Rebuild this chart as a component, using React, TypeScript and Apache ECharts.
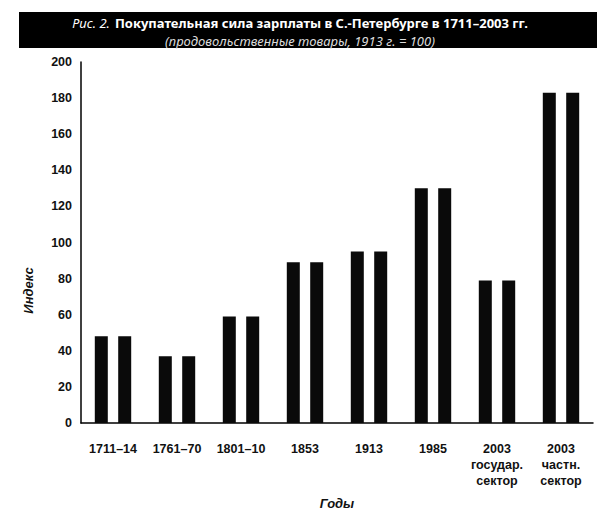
import React, { useEffect, useRef } from "react";
import * as echarts from "echarts";

const categories = [
  "1711–14",
  "1761–70",
  "1801–10",
  "1853",
  "1913",
  "1985",
  "2003\nгосудар.\nсектор",
  "2003\nчастн.\nсектор",
];
const valuesLeft = [48, 37, 59, 89, 95, 130, 79, 183];
const valuesRight = [48, 37, 59, 89, 95, 130, 79, 183];
const yMin = 0;
const yMax = 200;
const yStep = 20;

const titleMain = "Покупательная сила зарплаты в С.-Петербурге в 1711–2003 гг.";
const titlePrefix = "Рис. 2.";
const subtitle = "(продовольственные товары, 1913 г. = 100)";
const yName = "Индекс";
const xName = "Годы";

const LABEL_FONT = "'Liberation Sans', Arial, sans-serif";
const TITLE_FONT = "'Noto Sans', 'Open Sans', sans-serif";

export default function App() {
  const ref = useRef<HTMLDivElement>(null);
  useEffect(() => {
    document.body.style.margin = "0";
    const chart = echarts.init(ref.current!, undefined, { renderer: "svg" });
    const barStyle = { color: "#0a0a0a" };
    chart.setOption({
      animation: false,
      backgroundColor: "#ffffff",
      title: {
        left: "center",
        top: 14,
        padding: 0,
        itemGap: 1,
        text: `{i|${titlePrefix}} {b|${titleMain}}`,
        textStyle: {
          rich: {
            i: { fontFamily: TITLE_FONT, fontSize: 13, fontStyle: "italic", fontWeight: "normal", color: "#ffffff", lineHeight: 15 },
            b: { fontFamily: TITLE_FONT, fontSize: 13, fontWeight: "bold", color: "#ffffff", lineHeight: 15 },
          },
        },
        subtext: subtitle,
        subtextStyle: { fontFamily: TITLE_FONT, fontSize: 13, fontStyle: "italic", fontWeight: "normal", color: "#dcdcdc", lineHeight: 15 },
      },
      graphic: [
        { type: "rect", z: -10, shape: { x: 19, y: 12, width: 578, height: 36 }, style: { fill: "#000000" } },
      ],
      grid: { left: 81, right: 7, top: 62, bottom: 95, containLabel: false },
      xAxis: {
        type: "category",
        data: categories,
        axisLine: { lineStyle: { color: "#000", width: 1.5 } },
        axisTick: { show: false },
        axisLabel: {
          margin: 18,
          fontFamily: LABEL_FONT,
          fontSize: 12.5,
          fontWeight: "bold",
          color: "#111",
          lineHeight: 16,
          interval: 0,
        },
        name: xName,
        nameLocation: "middle",
        nameGap: 74,
        nameTextStyle: { fontFamily: LABEL_FONT, fontSize: 13, fontStyle: "italic", fontWeight: "bold", color: "#111" },
      },
      yAxis: {
        type: "value",
        min: yMin,
        max: yMax,
        interval: yStep,
        axisLine: { show: true, lineStyle: { color: "#000", width: 1.5 } },
        axisTick: { show: false },
        splitLine: { show: false },
        axisLabel: { margin: 9, fontFamily: LABEL_FONT, fontSize: 12.5, fontWeight: "bold", color: "#111" },
        name: yName,
        nameLocation: "middle",
        nameRotate: 90,
        nameGap: 46,
        nameTextStyle: {
          fontFamily: LABEL_FONT,
          fontSize: 13,
          fontStyle: "italic",
          fontWeight: "bold",
          color: "#111",
          padding: [0, 96, 0, 0],
        },
      },
      series: [
        { type: "bar", data: valuesLeft, barWidth: 13, barGap: "80%", itemStyle: barStyle },
        { type: "bar", data: valuesRight, barWidth: 13, barGap: "80%", itemStyle: barStyle },
      ],
    });
    return () => chart.dispose();
  }, []);
  return <div ref={ref} style={{ width: 600, height: 518 }} />;
}
